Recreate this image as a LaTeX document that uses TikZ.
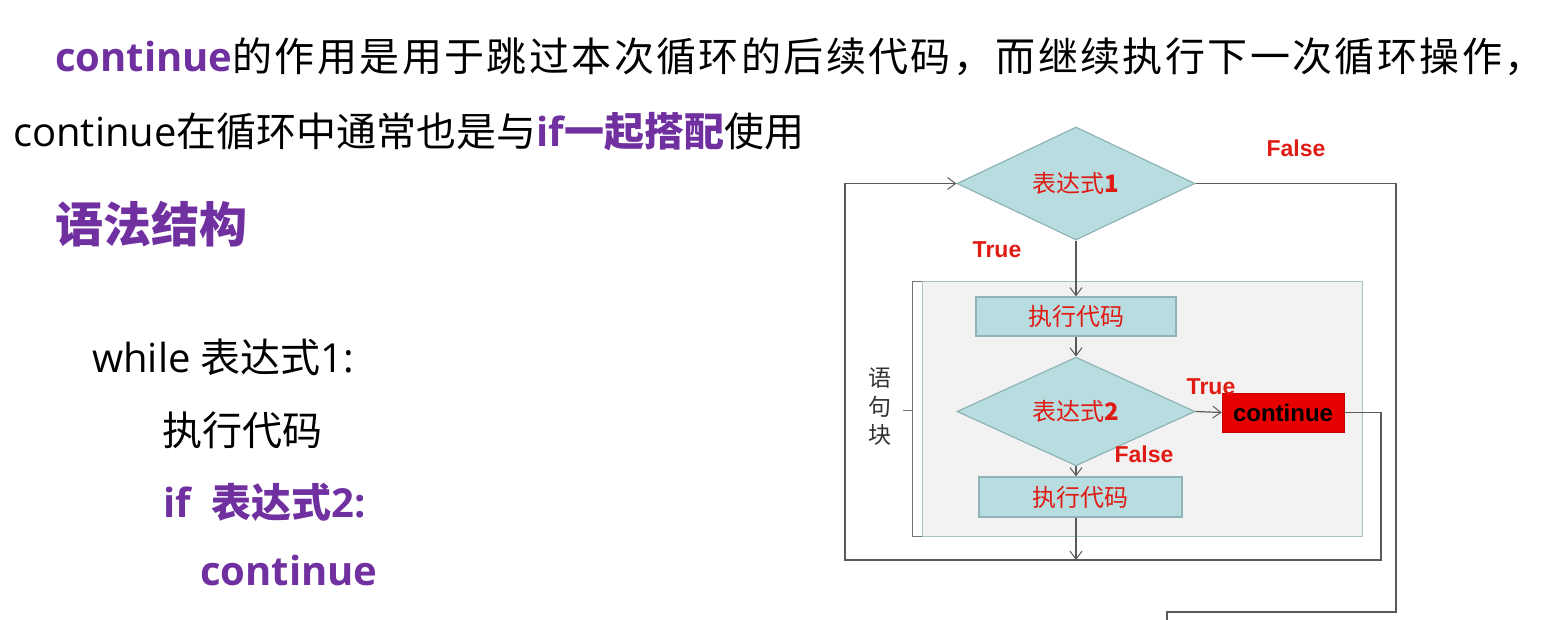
\documentclass[tikz,border=0pt]{standalone}
\usepackage{fontspec}
\setmainfont{Open Sans}
\newfontfamily\cjk{Noto Sans CJK SC}
\newfontfamily\arial{Liberation Sans}
\usetikzlibrary{shapes.geometric,arrows.meta}
\definecolor{purp}{HTML}{7030A0}
\definecolor{tealf}{HTML}{B7DDE0}
\definecolor{tealb}{HTML}{8FB4B7}
\definecolor{redt}{HTML}{E01B14}
\definecolor{linec}{HTML}{5A5A5A}
\definecolor{panelf}{HTML}{F2F2F2}
\definecolor{panelb}{HTML}{A9C3C5}
\definecolor{contred}{HTML}{E60000}
\begin{document}
\begin{tikzpicture}[x=1pt,y=-1pt,
  txt/.style={inner sep=0, anchor=base west},
  big/.style={font=\fontsize{40}{48}\selectfont},
  dec/.style={diamond, draw=tealb, fill=tealf, line width=1.2pt, inner sep=0, text=redt, font=\fontsize{24}{24}\selectfont\cjk},
  proc/.style={rectangle, draw=tealb, fill=tealf, line width=1.2pt, inner sep=0, text=redt, font=\fontsize{24}{24}\selectfont\cjk},
  lbl/.style={inner sep=0, text=redt, font=\fontsize{23}{23}\selectfont\arial\bfseries},
  conn/.style={draw=linec, line width=1.2pt},
  arr/.style={conn, -{Straight Barb[length=8pt,width=12pt,line width=1pt]}}]
\useasboundingbox (0,0) rectangle (1543,620);
% text
\node[txt, big] (l1) at (55,72) {{\bfseries\color{purp}continue}{\cjk\addfontfeature{LetterSpace=6}的作用是用于跳过本次循环的后续代码，而继续执行下一次循环操作，}};
\node[txt, big] (l2) at (13,147) {continue{\cjk 在循环中通常也是与}{\color{purp}\bfseries if{\cjk 一起搭配}}{\cjk 使用}};
\node[txt, font=\fontsize{48}{56}\selectfont\cjk\bfseries, text=purp] (h) at (55,243) {语法结构};
\node[txt, big] (c1) at (92,373) {while {\cjk 表达式}1:};
\node[txt, big] (c2) at (162,445) {\cjk 执行代码};
\node[txt, big, text=purp] (c3) at (163,517) {\bfseries if\ \ {\cjk 表达式}2:};
\node[txt, big, text=purp] (c4) at (200,585) {\bfseries continue};
% flowchart
\node[draw=panelb, fill=panelf, line width=1pt, minimum width=440, minimum height=254, inner sep=0] (panel) at (1142,409) {};
\node[dec, minimum width=238, minimum height=113] (d1) at (1076,183.5) {表达式\textbf{1}};
\node[proc, minimum width=200, minimum height=39] (b1) at (1076,316.5) {执行代码};
\node[dec, minimum width=238, minimum height=69] (d2) at (1076,411.5) {表达式\textbf{2}};
\node[proc, minimum width=203, minimum height=40] (b2) at (1080.5,497) {执行代码};
\node[draw=contred!85!black, fill=contred, line width=0.8pt, minimum width=122, minimum height=39, inner sep=0, font=\fontsize{24}{24}\selectfont\arial\bfseries] (cont) at (1283,412.5) {continue};
\node[lbl] (f1) at (1296,148) {False};
\node[lbl] (t1) at (997,250) {True};
\node[lbl] (t2) at (1211,387) {True};
\node[lbl] (f2) at (1144,454) {False};
\node[inner sep=0, align=center, text=black!80, font=\fontsize{23}{28.5}\selectfont\cjk] (yjk) at (880,407) {语\\句\\块};
% bracket
\draw[draw=black!55, line width=1pt] (panel.north west) -- ++(-9,0) |- (panel.south west);
\draw[draw=black!55, line width=1pt] (913,410) -- ++(-10,0);
% connectors
\coordinate (j) at (1076,560);
\coordinate (e) at (1167,620);
\draw[arr] (d1.south) -- (b1.north);
\draw[arr] (b1.south) -- (d2.north);
\draw[arr] (d2.south) -- (d2.south |- b2.north);
\draw[arr] (d2.south |- b2.south) -- (j);
\draw[arr] (j) -- (845,560) -- (845,183.5) -- (d1.west);
\draw[arr] (d2.east) -- (cont.west);
\draw[conn] (cont.east) -- (1381,412.5) -- (1381,560) -- (j);
\draw[conn] (d1.east) -- (1396,183.5) -- (1396,612) -- (1167,612) -- (e);
\end{tikzpicture}
\end{document}
